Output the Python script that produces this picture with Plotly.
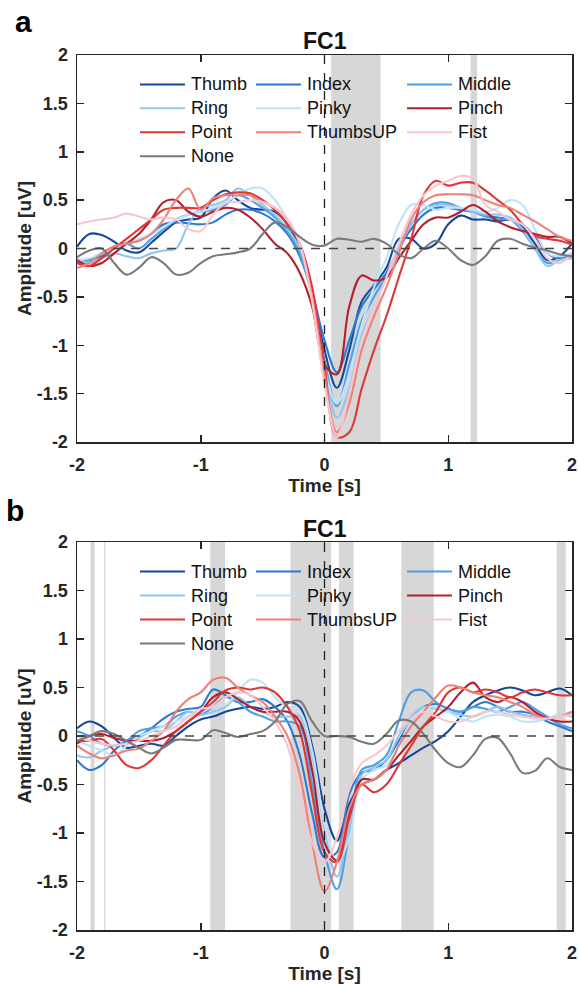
import plotly.graph_objects as go

# ---------------- data ----------------
time_s = [-2.0, -1.9, -1.8, -1.7, -1.6, -1.5, -1.4, -1.3, -1.2, -1.1,
          -1.0, -0.9, -0.8, -0.7, -0.6, -0.5, -0.4, -0.3, -0.2, -0.1,
          0.0, 0.1, 0.2, 0.3, 0.4, 0.5, 0.6, 0.7, 0.8, 0.9,
          1.0, 1.1, 1.2, 1.3, 1.4, 1.5, 1.6, 1.7, 1.8, 1.9, 2.0]

names = ["Thumb", "Index", "Middle", "Ring", "Pinky",
         "Pinch", "Point", "ThumbsUP", "Fist", "None"]

# panel a
a_thumb = [0.02, 0.15, 0.14, 0.07, -0.02, -0.04, 0.06, 0.17, 0.27, 0.30,
           0.32, 0.52, 0.60, 0.50, 0.42, 0.40, 0.38, 0.25, 0.00, -0.45,
           -1.05, -1.44, -1.05, -0.55, -0.38, -0.20, 0.10, 0.10, 0.00, 0.05,
           0.25, 0.34, 0.30, 0.30, 0.28, 0.30, 0.22, 0.05, -0.12, -0.08, 0.05]
a_index = [-0.12, -0.12, -0.08, 0.00, 0.05, 0.08, 0.15, 0.25, 0.27, 0.26,
           0.25, 0.27, 0.35, 0.40, 0.40, 0.36, 0.28, 0.15, -0.08, -0.45,
           -0.95, -1.28, -0.95, -0.60, -0.42, -0.25, 0.00, 0.20, 0.35, 0.42,
           0.42, 0.40, 0.38, 0.34, 0.32, 0.30, 0.25, 0.12, -0.05, -0.10, -0.05]
a_middle = [-0.15, -0.12, -0.05, 0.02, 0.05, 0.00, 0.10, 0.20, 0.30, 0.35,
            0.38, 0.40, 0.45, 0.55, 0.50, 0.42, 0.32, 0.18, -0.05, -0.50,
            -1.15, -1.63, -1.20, -0.75, -0.50, -0.28, 0.00, 0.25, 0.40, 0.47,
            0.47, 0.42, 0.38, 0.33, 0.30, 0.30, 0.18, 0.00, -0.15, -0.12, -0.08]
a_ring = [-0.10, -0.15, -0.10, -0.05, -0.08, -0.10, -0.05, -0.02, 0.00, 0.25,
          0.42, 0.45, 0.50, 0.62, 0.55, 0.45, 0.35, 0.20, 0.00, -0.45,
          -1.20, -1.75, -1.45, -0.90, -0.60, -0.30, 0.00, 0.25, 0.40, 0.45,
          0.45, 0.42, 0.38, 0.35, 0.35, 0.32, 0.20, 0.00, -0.18, -0.12, -0.10]
a_pinky = [-0.12, -0.10, -0.05, 0.00, 0.05, 0.10, 0.15, 0.22, 0.30, 0.35,
           0.38, 0.42, 0.48, 0.55, 0.62, 0.62, 0.50, 0.30, 0.05, -0.50,
           -1.25, -1.60, -1.30, -0.80, -0.40, -0.10, 0.25, 0.45, 0.45, 0.40,
           0.42, 0.42, 0.40, 0.38, 0.42, 0.50, 0.45, 0.20, -0.05, -0.08, -0.05]
a_pinch = [-0.12, -0.18, -0.15, -0.05, 0.05, 0.15, 0.30, 0.48, 0.50, 0.38,
           0.33, 0.38, 0.42, 0.40, 0.32, 0.20, 0.05, -0.05, -0.25, -0.60,
           -1.20, -1.30, -0.60, -0.28, -0.33, -0.30, -0.10, 0.08, 0.25, 0.32,
           0.32, 0.38, 0.45, 0.38, 0.28, 0.22, 0.18, 0.15, 0.12, 0.12, 0.05]
a_point = [-0.15, -0.18, -0.10, 0.00, 0.10, 0.20, 0.30, 0.40, 0.42, 0.42,
           0.42, 0.50, 0.56, 0.58, 0.57, 0.50, 0.40, 0.25, 0.05, -0.40,
           -1.20, -1.95, -1.90, -1.45, -1.05, -0.70, -0.30, 0.10, 0.55, 0.70,
           0.65, 0.68, 0.68, 0.60, 0.50, 0.40, 0.25, 0.13, 0.10, 0.08, 0.04]
a_thumbsup = [-0.20, -0.15, -0.05, 0.02, 0.05, 0.08, 0.15, 0.30, 0.50, 0.62,
              0.40, 0.52, 0.55, 0.55, 0.55, 0.48, 0.42, 0.30, 0.05, -0.50,
              -1.30, -1.90, -1.60, -1.05, -0.70, -0.40, -0.05, 0.30, 0.48, 0.55,
              0.56, 0.56, 0.55, 0.50, 0.45, 0.42, 0.35, 0.28, 0.20, 0.12, 0.08]
a_fist = [0.25, 0.28, 0.30, 0.32, 0.36, 0.33, 0.30, 0.32, 0.30, 0.20,
          0.18, 0.35, 0.47, 0.48, 0.50, 0.48, 0.42, 0.30, 0.05, -0.55,
          -1.40, -1.95, -1.50, -0.95, -0.60, -0.30, 0.05, 0.35, 0.55, 0.65,
          0.70, 0.75, 0.72, 0.45, 0.38, 0.30, 0.25, 0.10, -0.10, -0.15, -0.05]
a_none = [-0.09, -0.02, 0.00, -0.15, -0.27, -0.20, -0.09, -0.15, -0.27, -0.25,
          -0.15, -0.08, -0.06, -0.04, 0.00, 0.15, 0.27, 0.22, 0.12, 0.04,
          0.03, 0.10, 0.09, 0.07, 0.10, 0.05, -0.06, -0.10, 0.00, 0.08,
          0.00, -0.12, -0.17, -0.08, 0.08, 0.10, 0.05, 0.01, -0.02, -0.06, -0.08]

# panel b
b_thumb = [0.08, 0.15, 0.10, -0.02, -0.12, -0.10, -0.08, -0.10, 0.00, 0.10,
           0.17, 0.20, 0.25, 0.28, 0.30, 0.28, 0.30, 0.35, 0.30, -0.10,
           -0.75, -1.08, -0.70, -0.50, -0.45, -0.35, -0.28, -0.20, -0.12, -0.05,
           0.05, 0.20, 0.35, 0.42, 0.47, 0.50, 0.47, 0.42, 0.45, 0.49, 0.42]
b_index = [-0.25, -0.35, -0.30, -0.15, -0.05, 0.00, 0.08, 0.18, 0.25, 0.28,
           0.30, 0.48, 0.42, 0.35, 0.35, 0.38, 0.30, 0.15, -0.20, -0.80,
           -1.25, -1.20, -0.60, -0.38, -0.35, -0.25, -0.05, 0.15, 0.30, 0.33,
           0.28, 0.25, 0.30, 0.35, 0.30, 0.25, 0.25, 0.22, 0.15, 0.10, 0.05]
b_middle = [0.05, 0.00, -0.08, -0.10, -0.05, 0.05, 0.08, 0.10, 0.20, 0.25,
            0.22, 0.30, 0.40, 0.35, 0.25, 0.20, 0.15, 0.15, 0.10, -0.50,
            -1.20, -1.58, -1.00, -0.35, -0.30, -0.20, 0.15, 0.45, 0.47, 0.35,
            0.28, 0.25, 0.30, 0.28, 0.25, 0.30, 0.35, 0.28, 0.20, 0.12, 0.08]
b_ring = [-0.20, -0.22, -0.15, -0.10, -0.08, -0.02, 0.05, 0.05, 0.15, 0.25,
          0.22, 0.25, 0.30, 0.40, 0.30, 0.25, 0.20, 0.20, 0.20, -0.20,
          -0.95, -1.45, -0.95, -0.40, -0.32, -0.25, 0.00, 0.20, 0.30, 0.28,
          0.25, 0.22, 0.20, 0.25, 0.30, 0.25, 0.22, 0.20, 0.18, 0.22, 0.20]
b_pinky = [-0.05, -0.10, -0.15, -0.20, -0.10, 0.00, 0.05, 0.10, 0.15, 0.20,
           0.25, 0.30, 0.32, 0.45, 0.58, 0.55, 0.40, 0.30, 0.25, -0.15,
           -0.90, -1.30, -1.05, -0.45, -0.35, -0.30, -0.10, 0.15, 0.28, 0.30,
           0.25, 0.18, 0.15, 0.20, 0.22, 0.20, 0.15, 0.15, 0.18, 0.22, 0.25]
b_pinch = [-0.08, 0.00, 0.02, -0.02, -0.05, -0.05, -0.05, -0.02, 0.05, 0.15,
           0.25, 0.40, 0.45, 0.38, 0.30, 0.25, 0.25, 0.25, 0.15, -0.35,
           -1.10, -1.28, -0.80, -0.45, -0.45, -0.35, -0.20, -0.05, 0.10, 0.20,
           0.30, 0.45, 0.55, 0.40, 0.35, 0.40, 0.35, 0.25, 0.18, 0.15, 0.15]
b_point = [-0.05, -0.05, -0.03, -0.15, -0.30, -0.33, -0.25, -0.10, 0.05, 0.15,
           0.25, 0.35, 0.47, 0.50, 0.48, 0.50, 0.45, 0.30, 0.05, -0.60,
           -1.20, -1.30, -0.85, -0.50, -0.58, -0.50, -0.30, -0.10, 0.10, 0.25,
           0.45, 0.50, 0.45, 0.48, 0.45, 0.40, 0.45, 0.48, 0.45, 0.42, 0.42]
b_thumbsup = [-0.10, -0.18, -0.23, -0.20, -0.15, -0.13, -0.05, 0.05, 0.25, 0.38,
              0.45, 0.58, 0.60, 0.50, 0.42, 0.35, 0.20, 0.00, -0.40, -1.10,
              -1.60, -1.30, -0.75, -0.50, -0.45, -0.35, -0.10, 0.10, 0.25, 0.40,
              0.52, 0.50, 0.45, 0.42, 0.40, 0.35, 0.30, 0.22, 0.18, 0.20, 0.25]
b_fist = [0.00, -0.05, -0.08, -0.10, -0.08, -0.05, 0.00, 0.05, 0.10, 0.20,
          0.28, 0.30, 0.40, 0.45, 0.42, 0.30, 0.15, -0.10, -0.60, -1.10,
          -1.30, -1.05, -0.55, -0.28, -0.20, -0.10, 0.05, 0.18, 0.25, 0.20,
          0.15, 0.15, 0.20, 0.25, 0.25, 0.22, 0.20, 0.18, 0.18, 0.20, 0.22]
b_none = [-0.05, 0.00, 0.05, 0.02, -0.05, -0.12, -0.18, -0.12, -0.04, -0.04,
          -0.04, 0.06, 0.03, -0.01, 0.02, 0.05, 0.15, 0.33, 0.36, 0.15,
          0.00, 0.00, -0.01, -0.06, -0.08, 0.02, 0.16, 0.15, 0.02, -0.15,
          -0.28, -0.32, -0.20, -0.03, -0.02, -0.18, -0.38, -0.36, -0.23, -0.32, -0.35]

# significant windows (s)
sig_a_start = [0.054, 1.180]
sig_a_end = [0.453, 1.233]
sig_b_start = [-1.890, -1.781, -0.923, -0.275, 0.116, 0.620, 1.876]
sig_b_end = [-1.858, -1.770, -0.804, 0.054, 0.235, 0.883, 1.949]

y_ticks = [-2, -1.5, -1, -0.5, 0, 0.5, 1, 1.5, 2]
y_tick_text = ["-2", "-1.5", "-1", "-0.5", "0", "0.5", "1", "1.5", "2"]
x_ticks = [-2, -1, 0, 1, 2]
x_tick_text = ["-2", "-1", "0", "1", "2"]

# ---------------- style ----------------
colors = ["#17479a", "#2b7bd3", "#4d9fe6", "#90c5ee", "#bfe3f7",
          "#b3202b", "#df3636", "#ef8179", "#f8c6cf", "#7a7a7a"]
FONT = "Liberation Sans, Arial, sans-serif"
W, H = 579, 985
ML, MR, MT, MB = 77, 7, 55, 55
PW = W - ML - MR
plot_h = H - MT - MB
dom_a = [(930 - 442) / plot_h, 1.0]
dom_b = [0.0, (930 - 542) / plot_h]

panel_a = [a_thumb, a_index, a_middle, a_ring, a_pinky,
           a_pinch, a_point, a_thumbsup, a_fist, a_none]
panel_b = [b_thumb, b_index, b_middle, b_ring, b_pinky,
           b_pinch, b_point, b_thumbsup, b_fist, b_none]

fig = go.Figure()
for xa, ya, data in (("x", "y", panel_a), ("x2", "y2", panel_b)):
    for name, col, vals in zip(names, colors, data):
        fig.add_trace(go.Scatter(
            x=time_s, y=vals, mode="lines", name=name,
            line=dict(color=col, width=2.1, shape="spline", smoothing=1.0),
            xaxis=xa, yaxis=ya, showlegend=False, hoverinfo="skip"))

shapes = []
annotations = []
for xr, yr, starts, ends in (("x", "y", sig_a_start, sig_a_end),
                             ("x2", "y2", sig_b_start, sig_b_end)):
    for s, e in zip(starts, ends):
        shapes.append(dict(type="rect", xref=xr, yref=yr + " domain",
                           x0=s, x1=e, y0=0, y1=1, layer="below",
                           fillcolor="#d7d7d7", line=dict(width=0)))
    # zero lines
    shapes.append(dict(type="line", xref=xr + " domain", yref=yr,
                       x0=0, x1=1, y0=0, y1=0, layer="above",
                       line=dict(color="#444444", width=1.3, dash="dash")))
    shapes.append(dict(type="line", xref=xr, yref=yr + " domain",
                       x0=0, x1=0, y0=0, y1=1, layer="above",
                       line=dict(color="#222222", width=1.3, dash="dash")))
    # manual legend (3 columns)
    col_x = [(140 - ML) / PW, (256 - ML) / PW, (407 - ML) / PW]
    seg = 45 / PW
    row_px = [29.5, 53.5, 77.5, 101.5]
    for k, (name, col) in enumerate(zip(names, colors)):
        r, c = divmod(k, 3)
        yd = 1 - row_px[r] / 388
        shapes.append(dict(type="line", xref=xr + " domain", yref=yr + " domain",
                           x0=col_x[c], x1=col_x[c] + seg, y0=yd, y1=yd,
                           line=dict(color=col, width=2)))
        annotations.append(dict(xref=xr + " domain", yref=yr + " domain",
                                x=col_x[c] + seg + 4 / PW, y=yd,
                                xanchor="left", yanchor="middle", showarrow=False,
                                text=name, font=dict(family=FONT, size=18, color="#111111")))
    annotations.append(dict(xref=xr + " domain", yref=yr + " domain", x=0.5, y=1,
                            yshift=14 if xr == "x" else 13,
                            xanchor="center", yanchor="middle", showarrow=False,
                            text="<b>FC1</b>", font=dict(family=FONT, size=23, color="#111111")))

annotations.append(dict(xref="paper", yref="paper", x=(23 - ML) / PW, y=(930 - 22) / plot_h,
                        xanchor="center", yanchor="middle", showarrow=False,
                        text="<b>a</b>", font=dict(family=FONT, size=30, color="#000000")))
annotations.append(dict(xref="paper", yref="paper", x=(15 - ML) / PW, y=(930 - 510) / plot_h,
                        xanchor="center", yanchor="middle", showarrow=False,
                        text="<b>b</b>", font=dict(family=FONT, size=30, color="#000000")))

axis_common = dict(showline=True, linecolor="#262626", linewidth=1.5, mirror="ticks",
                   ticks="inside", ticklen=7, tickwidth=1.5, tickcolor="#262626",
                   showgrid=False, zeroline=False, automargin=False,
                   tickfont=dict(family=FONT, size=18, color="#262626", weight="bold"))

fig.update_layout(
    width=W, height=H, margin=dict(l=ML, r=MR, t=MT, b=MB),
    plot_bgcolor="white", paper_bgcolor="white",
    shapes=shapes, annotations=annotations, showlegend=False,
    xaxis=dict(domain=[0, 1], range=[-2, 2], anchor="y",
               tickvals=x_ticks, ticktext=x_tick_text, ticklabelstandoff=6,
               title=dict(text="<b>Time [s]</b>", standoff=4,
                          font=dict(family=FONT, size=19, color="#262626")),
               **axis_common),
    yaxis=dict(domain=dom_a, range=[-2, 2], anchor="x",
               tickvals=y_ticks, ticktext=y_tick_text, ticklabelstandoff=4,
               title=dict(text="<b>Amplitude [uV]</b>", standoff=0,
                          font=dict(family=FONT, size=19, color="#262626")),
               **axis_common),
    xaxis2=dict(domain=[0, 1], range=[-2, 2], anchor="y2",
                tickvals=x_ticks, ticktext=x_tick_text, ticklabelstandoff=6,
                title=dict(text="<b>Time [s]</b>", standoff=4,
                           font=dict(family=FONT, size=19, color="#262626")),
                **axis_common),
    yaxis2=dict(domain=dom_b, range=[-2, 2], anchor="x2",
                tickvals=y_ticks, ticktext=y_tick_text, ticklabelstandoff=4,
                title=dict(text="<b>Amplitude [uV]</b>", standoff=0,
                           font=dict(family=FONT, size=19, color="#262626")),
                **axis_common),
)

fig.write_html("out.html",
               config={"displayModeBar": False, "staticPlot": True},
               post_script="document.body.style.margin='0px';"
                           "document.documentElement.style.overflow='hidden';")
